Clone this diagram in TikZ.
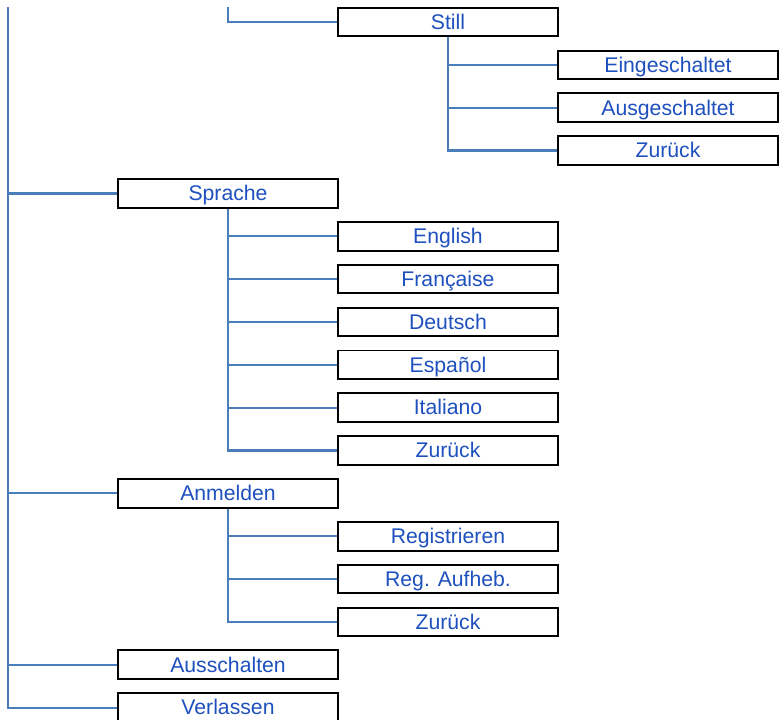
\documentclass[tikz,border=0pt]{standalone}
\usepackage{fontspec}
\setmainfont{Liberation Sans}
\definecolor{linkblue}{RGB}{74,126,187}
\definecolor{textblue}{RGB}{30,80,190}
\tikzset{
  menubox/.style={draw=black, line width=1.3pt, fill=white, rectangle,
    minimum width=220pt, minimum height=28pt, inner sep=0pt,
    text height=15pt, text depth=0.4pt,
    text=textblue, font=\fontsize{21.2}{24}\selectfont},
  conn/.style={draw=linkblue, line width=2.2pt}
}
\begin{document}
\begin{tikzpicture}[x=1pt,y=-1pt]
\useasboundingbox (0,0) rectangle (779,720);
% nodes
\node[menubox] (still) at (448,22) {Still};
\node[menubox] (ein) at (668,64.85) {Eingeschaltet};
\node[menubox] (aus) at (668,107.7) {Ausgeschaltet};
\node[menubox] (zur1) at (668,150.55) {Zurück};
\node[menubox] (sprache) at (228,193.4) {Sprache};
\node[menubox] (eng) at (448,236.25) {English};
\node[menubox] (fra) at (448,279.1) {Française};
\node[menubox] (deu) at (448,321.95) {Deutsch};
\node[menubox] (esp) at (448,364.8) {Español};
\node[menubox] (ita) at (448,407.65) {Italiano};
\node[menubox] (zur2) at (448,450.5) {Zurück};
\node[menubox] (anm) at (228,493.35) {Anmelden};
\node[menubox] (reg) at (448,536.2) {Registrieren};
\node[menubox] (regauf) at (448,579.05) {Reg. Aufheb.};
\node[menubox] (zur3) at (448,621.9) {Zurück};
\node[menubox] (ausschalten) at (228,664.75) {Ausschalten};
\node[menubox] (verl) at (228,707.6) {Verlassen};
\coordinate (maintop) at (8,7);
\coordinate (subtop) at (228,7);
% connectors
\draw[conn] (subtop) |- (still.west);
\draw[conn] (maintop) |- (sprache.west);
\draw[conn] (maintop) |- (anm.west);
\draw[conn] (maintop) |- (ausschalten.west);
\draw[conn] (maintop) |- (verl.west);
\draw[conn] (still.south) |- (ein.west);
\draw[conn] (still.south) |- (aus.west);
\draw[conn] (still.south) |- (zur1.west);
\draw[conn] (sprache.south) |- (eng.west);
\draw[conn] (sprache.south) |- (fra.west);
\draw[conn] (sprache.south) |- (deu.west);
\draw[conn] (sprache.south) |- (esp.west);
\draw[conn] (sprache.south) |- (ita.west);
\draw[conn] (sprache.south) |- (zur2.west);
\draw[conn] (anm.south) |- (reg.west);
\draw[conn] (anm.south) |- (regauf.west);
\draw[conn] (anm.south) |- (zur3.west);
% redraw box borders on top
\foreach \n in {still,ein,aus,zur1,sprache,eng,fra,deu,esp,ita,zur2,anm,reg,regauf,zur3,ausschalten,verl}
  \draw[black, line width=1.3pt] (\n.north west) rectangle (\n.south east);
\end{tikzpicture}
\end{document}
